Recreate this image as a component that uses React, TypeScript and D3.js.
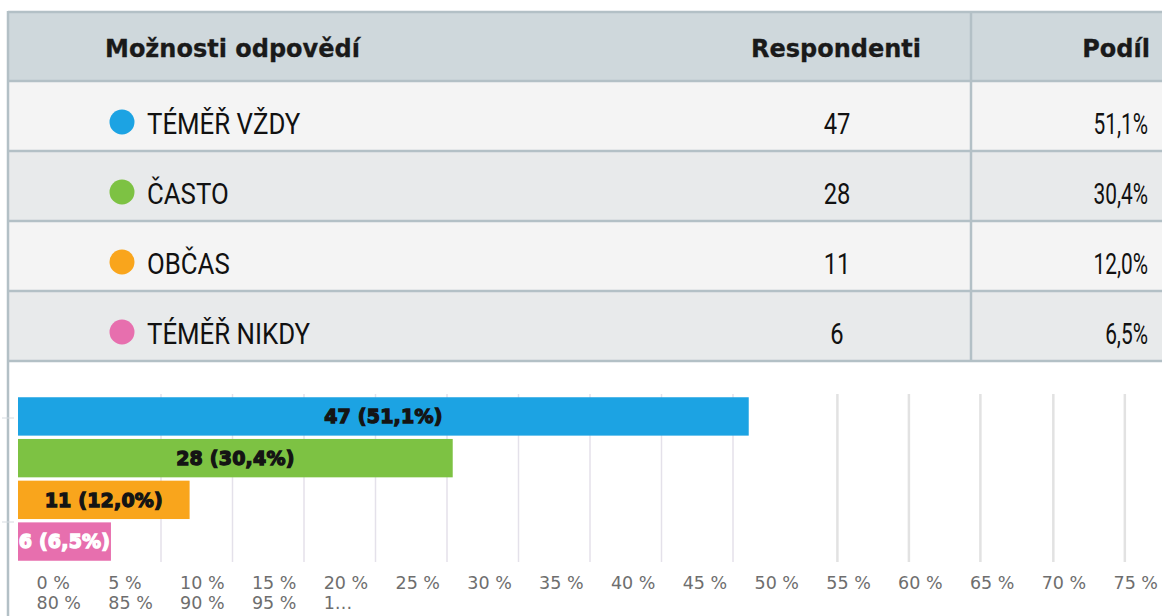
import React from "react";
import * as d3 from "d3";

// ---- data ----
const headers = ["Možnosti odpovědí", "Respondenti", "Podíl"];
const categories = ["TÉMĚŘ VŽDY", "ČASTO", "OBČAS", "TÉMĚŘ NIKDY"];
const counts = [47, 28, 11, 6];
const shares = [51.1, 30.4, 12.0, 6.5];
const gridValues = [10, 15, 20, 25, 30, 35, 40, 45, 50, 57.3, 62.3, 67.3, 72.4, 77.4];
const tickLabels = [
  "0 %", "5 %", "10 %", "15 %", "20 %", "25 %", "30 %", "35 %", "40 %", "45 %",
  "50 %", "55 %", "60 %", "65 %", "70 %", "75 %", "80 %", "85 %", "90 %", "95 %", "1…",
];

// ---- styles ----
const palette = ["#1ca3e3", "#7dc243", "#f9a51c", "#e76fae"];
const labelColors = ["#141414", "#141414", "#141414", "#ffffff"];
const borderColor = "#b3c0c6";

const W = 1162;
const H = 616;

const fmtShare = (v: number) => d3.format(".1f")(v).replace(".", ",") + "%";

export default function App() {
  // table rows
  const rowY = d3.scaleBand<number>().domain(d3.range(categories.length)).range([81, 361]);
  const rowH = rowY.bandwidth();

  // chart scales
  const x = d3.scaleLinear().domain([0, 100]).range([18, 1448]);
  const y = d3
    .scaleBand<string>()
    .domain(categories)
    .range([396, 562])
    .paddingInner(0.08)
    .paddingOuter(0.03);
  const tickX = d3.scaleLinear().domain([0, 15]).range([36.5, 1113.5]);

  return (
    <svg
      width={W}
      height={H}
      viewBox={`0 0 ${W} ${H}`}
      style={{ position: "absolute", left: 0, top: 0, display: "block", background: "#fff" }}
    >
      <defs>
        {categories.map((c, i) => (
          <clipPath id={`clip${i}`} key={c}>
            <rect x={x(0)} y={y(c)!} width={x(shares[i]) - x(0)} height={y.bandwidth()} />
          </clipPath>
        ))}
      </defs>

      {/* header */}
      <rect x={8} y={12} width={W - 8} height={69} fill="#cfd8dc" />
      {categories.map((c, i) => (
        <rect
          key={c}
          x={8}
          y={rowY(i)!}
          width={W - 8}
          height={rowH}
          fill={i % 2 === 0 ? "#f4f4f4" : "#e8eaeb"}
        />
      ))}

      {/* table lines */}
      <line x1={8} x2={W} y1={12} y2={12} stroke={borderColor} strokeWidth={2.5} />
      {d3.range(categories.length + 1).map((i) => {
        const yy = i < categories.length ? rowY(i)! : 361;
        return <line key={i} x1={8} x2={W} y1={yy} y2={yy} stroke={borderColor} strokeWidth={2.5} />;
      })}
      <line x1={971} x2={971} y1={12} y2={361} stroke={borderColor} strokeWidth={2.5} />
      <line x1={8} x2={8} y1={11} y2={H} stroke={borderColor} strokeWidth={2.5} />

      {/* header text */}
      <g
        fontFamily="'DejaVu Sans', Verdana, sans-serif"
        fontWeight="bold"
        fontSize={24}
        fill="#1a1a1a"
        stroke="#1a1a1a"
        strokeWidth={0.3}
      >
        <text x={105} y={57}>{headers[0]}</text>
        <text x={836} y={57} textAnchor="middle">{headers[1]}</text>
        <text x={1150} y={57} textAnchor="end">{headers[2]}</text>
      </g>

      {/* rows */}
      {categories.map((c, i) => {
        const top = rowY(i)!;
        const base = top + 53;
        return (
          <g key={c} fontFamily="Roboto, 'Liberation Sans', sans-serif" fontSize={29} fill="#111">
            <circle cx={122} cy={top + 41} r={12.5} fill={palette[i]} />
            <text transform={`translate(147,${base}) scale(0.89,1)`}>{c}</text>
            <text transform={`translate(837,${base}) scale(0.82,1)`} textAnchor="middle">
              {counts[i]}
            </text>
            <text transform={`translate(1148,${base}) scale(0.72,1)`} textAnchor="end">
              {fmtShare(shares[i])}
            </text>
          </g>
        );
      })}

      {/* gridlines */}
      {gridValues.map((v) => (
        <line
          key={v}
          x1={x(v)}
          x2={x(v)}
          y1={394}
          y2={562}
          stroke={v > 55 ? "#e2e2e2" : "#e4e1ea"}
          strokeWidth={v > 55 ? 2.5 : 1.5}
        />
      ))}

      {/* small left ticks */}
      <line x1={2} x2={14} y1={418} y2={418} stroke="#d5dbe0" strokeWidth={1} />
      <line x1={2} x2={14} y1={522} y2={522} stroke="#d5dbe0" strokeWidth={1} />

      {/* bars */}
      {categories.map((c, i) => (
        <rect
          key={c}
          x={x(0)}
          y={y(c)!}
          width={x(shares[i]) - x(0)}
          height={y.bandwidth()}
          fill={palette[i]}
        />
      ))}

      {/* bar labels */}
      {categories.map((c, i) => (
        <text
          key={c}
          clipPath={`url(#clip${i})`}
          x={(x(0) + x(shares[i])) / 2}
          y={y(c)! + y.bandwidth() / 2}
          dy="0.36em"
          textAnchor="middle"
          fontFamily="'DejaVu Sans', Verdana, sans-serif"
          fontWeight="bold"
          fontSize={19}
          fill={labelColors[i]}
          stroke={labelColors[i]}
          strokeWidth={1.3}
          letterSpacing={0.2}
        >
          {`${counts[i]} (${fmtShare(shares[i])})`}
        </text>
      ))}

      {/* axis tick labels (wrapped) */}
      <g fontFamily="'DejaVu Sans', Verdana, sans-serif" fontSize={17.5} fill="#6e6e6e">
        {tickLabels.map((t, i) => (
          <text key={t} x={tickX(i % 16)} y={i < 16 ? 589 : 609}>
            {t}
          </text>
        ))}
      </g>
    </svg>
  );
}
